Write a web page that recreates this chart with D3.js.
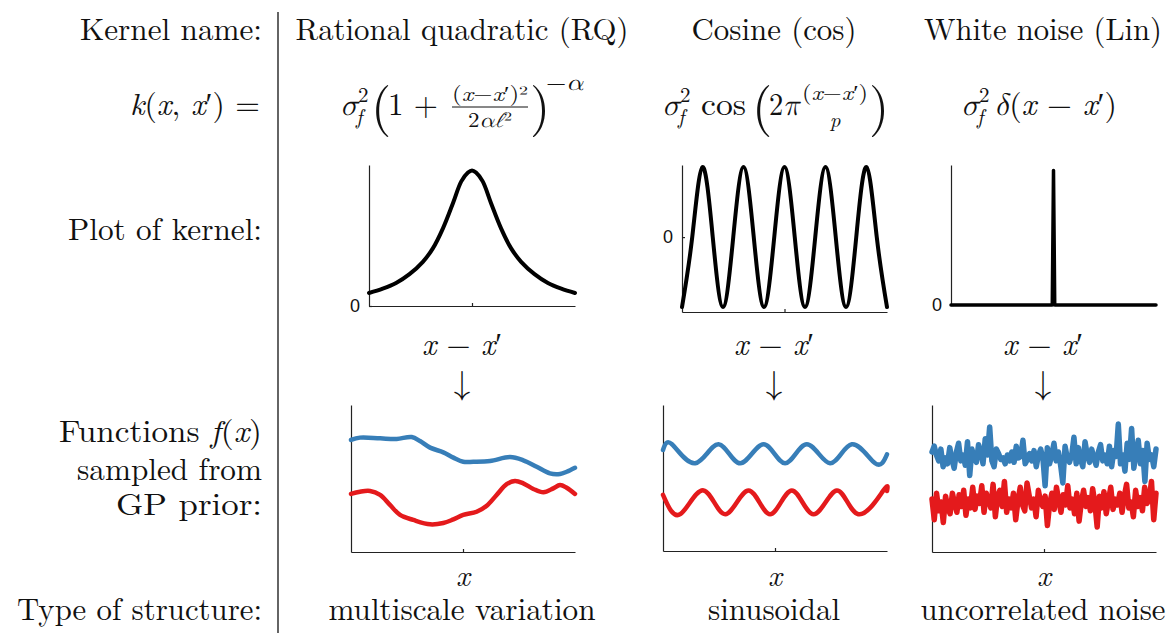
<!DOCTYPE html>
<html>
<head>
<meta charset="utf-8">
<script src="https://cdn.jsdelivr.net/npm/d3@7"></script>
<style>
  html, body { margin: 0; padding: 0; background: #fff; }
  svg { display: block; }
</style>
</head>
<body>
<script>
// ---------------- DATA ----------------
const rowLabels = ["Kernel name:", "Plot of kernel:", "sampled from", "GP prior:", "Type of structure:"];
const kernelNames = ["Rational quadratic (RQ)", "Cosine (cos)", "White noise (Lin)"];
const structureTypes = ["multiscale variation", "sinusoidal", "uncorrelated noise"];
const zeroTickLabel = ["0"];

// Kernel plots
const rqKernelX = [-1, -0.867, -0.737, -0.607, -0.477, -0.38, -0.282, -0.185, -0.104, -0.039, 0, 0.039, 0.104, 0.185, 0.282, 0.38, 0.477, 0.607, 0.737, 0.867, 1];
const rqKernelY = [0.096, 0.128, 0.170, 0.235, 0.326, 0.425, 0.573, 0.758, 0.919, 0.985, 1, 0.985, 0.919, 0.758, 0.573, 0.425, 0.326, 0.235, 0.170, 0.128, 0.096];

const cosKernelX = [-2.5, -2.25, -2, -1.75, -1.5, -1.25, -1, -0.75, -0.5, -0.25, 0, 0.25, 0.5, 0.75, 1, 1.25, 1.5, 1.75, 2, 2.25, 2.5];
const cosKernelY = [-1, 0, 1, 0, -1, 0, 1, 0, -1, 0, 1, 0, -1, 0, 1, 0, -1, 0, 1, 0, -1];

const wnKernelX = [-1, -0.012, 0, 0.012, 1];
const wnKernelY = [0, 0, 1, 0, 0];

// Samples: RQ
const rqBlueX = [0, 0.04, 0.13, 0.204, 0.271, 0.308, 0.353, 0.412, 0.457, 0.501, 0.546, 0.621, 0.710, 0.769, 0.829, 0.888, 0.933, 0.963, 1];
const rqBlueY = [76.2, 77.8, 77.3, 76.9, 78.2, 75.5, 71.0, 67.8, 64.2, 61.4, 61.4, 61.9, 64.6, 62.4, 58.0, 53.5, 53.1, 54.6, 57.3];
const rqRedX = [0, 0.04, 0.085, 0.13, 0.174, 0.219, 0.278, 0.353, 0.412, 0.457, 0.501, 0.561, 0.606, 0.650, 0.695, 0.732, 0.769, 0.814, 0.859, 0.903, 0.933, 0.963, 1];
const rqRedY = [39.5, 41.0, 41.5, 38.8, 32.0, 25.2, 21.8, 18.8, 19.7, 22.2, 25.2, 27.4, 31.5, 38.8, 46.1, 48.3, 46.7, 42.9, 40.6, 43.3, 45.6, 43.7, 39.5];

// Samples: cosine
const cosBlueX = [0, 0.04, 0.144, 0.248, 0.345, 0.449, 0.545, 0.642, 0.746, 0.843, 0.947, 1];
const cosBlueY = [69.2, 73.1, 60.1, 73.1, 60.1, 73.1, 60.1, 73.1, 60.1, 73.1, 60.1, 66.2];
const cosRedX = [0, 0.077, 0.181, 0.278, 0.382, 0.478, 0.575, 0.672, 0.776, 0.872, 0.984, 1];
const cosRedY = [38.4, 25.2, 41.5, 25.2, 41.5, 25.2, 41.5, 25.2, 41.5, 25.2, 41.5, 41.1];

// Samples: white noise
const wnBlueY = [68, 72, 66, 62, 70, 58, 64, 60, 71, 63, 57, 68, 74, 62, 66, 59, 75, 52, 70, 64,
  61, 73, 68, 60, 77, 66, 85, 62, 58, 70, 67, 63, 64, 60, 66, 62, 68, 61, 72, 64,
  65, 76, 60, 63, 67, 62, 69, 58, 66, 70, 64, 45, 71, 60, 66, 74, 62, 68, 59, 47,
  72, 64, 61, 66, 78, 60, 71, 63, 58, 75, 66, 61, 70, 64, 59, 68, 73, 62, 66, 60,
  72, 58, 69, 65, 87, 60, 66, 55, 74, 63, 84, 57, 67, 76, 60, 69, 48, 74, 63, 66, 58, 70];
const wnRedY = [36, 22, 40, 28, 34, 20, 38, 30, 26, 40, 33, 27, 39, 31, 42, 25, 36, 30, 44, 29,
  38, 33, 45, 27, 40, 35, 30, 46, 24, 38, 42, 31, 48, 27, 36, 30, 40, 22, 35, 44,
  32, 28, 47, 38, 30, 36, 24, 42, 34, 31, 38, 18, 33, 40, 29, 44, 35, 27, 39, 32,
  45, 30, 36, 26, 40, 21, 34, 42, 31, 37, 28, 43, 33, 17, 38, 30, 41, 26, 35, 44,
  29, 36, 32, 40, 27, 38, 46, 30, 34, 24, 42, 31, 37, 28, 44, 33, 36, 48, 22, 40];

const BLUE = "#377eb8", RED = "#e41a1c";
const SERIF = "'Latin Modern Roman', 'Liberation Serif', serif";
const GREEK = "'Latin Modern Math', 'Liberation Serif', serif";
const SANS = "'Liberation Sans', Arial, sans-serif";
const ARROW = "'Latin Modern Math', 'DejaVu Serif', serif";

// ---------------- DRAW ----------------
const svg = d3.select("body").append("svg").attr("width", 1174).attr("height", 633);

function txt(g, s, x, y, opt = {}) {
  const t = g.append("text").attr("x", x).attr("y", y)
    .attr("font-size", opt.size || 31)
    .attr("text-anchor", opt.anchor || "start")
    .style("font-family", opt.family || SERIF)
    .style("fill", "#111")
    .text(s);
  if (opt.italic) t.style("font-style", "italic");
  if (opt.width) t.attr("textLength", opt.width).attr("lengthAdjust", "spacingAndGlyphs");
  return t;
}
// parts: [string, italic?, greek?]
function mixed(g, parts, x, y, opt = {}) {
  const t = g.append("text").attr("x", x).attr("y", y)
    .attr("font-size", opt.size || 31)
    .attr("text-anchor", opt.anchor || "start")
    .style("font-family", SERIF)
    .style("fill", "#111");
  parts.forEach(p => {
    const s = t.append("tspan").text(p[0]);
    if (p[2]) s.style("font-family", GREEK);
    if (p[1]) s.style("font-style", "italic");
  });
  if (opt.width) t.attr("textLength", opt.width).attr("lengthAdjust", "spacingAndGlyphs");
  return t;
}

// divider
svg.append("line").attr("x1", 278).attr("x2", 278).attr("y1", 12).attr("y2", 633)
  .attr("stroke", "#111").attr("stroke-width", 1.3);

// row labels
txt(svg, rowLabels[0], 262, 40, {anchor: "end", width: 182});
mixed(svg, [["k", 1], ["("], ["x", 1], [", "], ["x", 1], ["′) ="]], 260, 115, {anchor: "end", width: 130});
txt(svg, rowLabels[1], 262, 240, {anchor: "end", width: 194});
mixed(svg, [["Functions "], ["f", 1], ["("], ["x", 1], [")"]], 262, 442, {anchor: "end", width: 203});
txt(svg, rowLabels[2], 262, 480, {anchor: "end", width: 185});
txt(svg, rowLabels[3], 262, 515, {anchor: "end", width: 146});
txt(svg, rowLabels[4], 262, 620, {anchor: "end", width: 245});

// column headers
const colCenters = [462, 774, 1043];
const headerWidths = [333, 165, 238];
kernelNames.forEach((n, i) => txt(svg, n, colCenters[i], 40, {anchor: "middle", width: headerWidths[i]}));
const structWidths = [267, 132, 245];
structureTypes.forEach((n, i) => txt(svg, n, colCenters[i], 620, {anchor: "middle", width: structWidths[i]}));

// formulas
function sigmaF(x) {
  txt(svg, "σ", x, 115, {size: 31, family: GREEK, italic: true});
  txt(svg, "2", x + 18, 102, {size: 21});
  txt(svg, "f", x + 16, 124, {italic: true, size: 21});
}
function bigParen(s, x) {
  txt(svg, s, x, 124, {size: 52});
}
// RQ
sigmaF(340);
bigParen("(", 371);
txt(svg, "1 +", 388, 115, {size: 31, width: 50});
mixed(svg, [["("], ["x", 1], ["−"], ["x", 1], ["′)²"]], 490, 101, {anchor: "middle", size: 21, width: 76});
svg.append("line").attr("x1", 452).attr("x2", 528).attr("y1", 107).attr("y2", 107).attr("stroke", "#111").attr("stroke-width", 1);
mixed(svg, [["2"], ["α", 1, 1], ["ℓ", 1, 1], ["²"]], 490, 127, {anchor: "middle", size: 21, width: 44});
bigParen(")", 530);
mixed(svg, [["−"], ["α", 1, 1]], 546, 90, {size: 23, width: 37});
// Cos
sigmaF(662);
txt(svg, "cos", 701, 115, {size: 31, width: 45});
bigParen("(", 752);
mixed(svg, [["2"], ["π", 1, 1]], 769, 115, {size: 31, width: 31});
mixed(svg, [["("], ["x", 1], ["−"], ["x", 1], ["′)"]], 835, 100, {anchor: "middle", size: 21, width: 66});
txt(svg, "p", 835, 127, {anchor: "middle", italic: true, size: 21});
bigParen(")", 869);
// White noise
sigmaF(961);
mixed(svg, [["δ", 1, 1], ["("], ["x", 1], [" − "], ["x", 1], ["′)"]], 994, 115, {size: 31, width: 123});

// kernel plots
const kPanels = [
  {x0: 369, x1: 575, y0: 165, y1: 306, xd: [-1, 1], yd: [0, 1.04], X: rqKernelX, Y: rqKernelY, curve: d3.curveCatmullRom, lbl: [355, 311]},
  {x0: 682, x1: 887, y0: 165, y1: 312, xd: [-2.5, 2.5], yd: [-1.07, 1.03], X: cosKernelX, Y: cosKernelY, curve: d3.curveNatural, lbl: [668, 245]},
  {x0: 951, x1: 1156, y0: 165, y1: 305, xd: [-1, 1], yd: [0, 1.04], X: wnKernelX, Y: wnKernelY, curve: d3.curveLinear, lbl: [937, 312]}
];
kPanels.forEach((p, i) => {
  const x = d3.scaleLinear().domain(p.xd).range([p.x0, p.x1]);
  const y = d3.scaleLinear().domain(p.yd).range([p.y1, p.y0]);
  const g = svg.append("g");
  const ax = g.append("g").attr("transform", `translate(0,${p.y1})`)
    .call(d3.axisBottom(x).tickValues([0]).tickSize(-3).tickSizeOuter(0).tickFormat(""));
  const ay = g.append("g").attr("transform", `translate(${p.x0},0)`)
    .call(d3.axisLeft(y).tickValues([0]).tickSize(-3).tickSizeOuter(0).tickFormat(""));
  [ax, ay].forEach(a => { a.selectAll("path,line").attr("stroke", "#222").attr("stroke-width", 1.2); });
  txt(g, zeroTickLabel[0], p.lbl[0], y(0) + 6, {anchor: "middle", size: 18, family: SANS});
  const line = d3.line().x((d, j) => x(p.X[j])).y(d => y(d)).curve(p.curve);
  g.append("path").attr("d", line(p.Y)).attr("fill", "none").attr("stroke", "#000")
    .attr("stroke-width", i === 2 ? 3.5 : 4).attr("stroke-linejoin", "round").attr("stroke-linecap", "round");
  // x - x' label and arrow
  mixed(svg, [["x", 1], [" − "], ["x", 1], ["′"]], colCenters[i], 355, {anchor: "middle", size: 31, width: 80});
  txt(svg, "↓", colCenters[i], 394, {anchor: "middle", size: 34, family: ARROW});
});

// sample plots
const sPanels = [
  {x0: 351, x1: 575, y0: 405, y1: 552, series: [[rqBlueX, rqBlueY, BLUE], [rqRedX, rqRedY, RED]], curve: d3.curveCatmullRom, w: 4.5},
  {x0: 663, x1: 887, y0: 405, y1: 551, series: [[cosBlueX, cosBlueY, BLUE], [cosRedX, cosRedY, RED]], curve: d3.curveNatural, w: 4.5},
  {x0: 932, x1: 1156, y0: 405, y1: 552, series: [[wnBlueY.map((d, j) => j / (wnBlueY.length - 1)), wnBlueY, BLUE], [wnRedY.map((d, j) => j / (wnRedY.length - 1)), wnRedY, RED]], curve: d3.curveLinear, w: 5.5}
];
sPanels.forEach((p, i) => {
  const x = d3.scaleLinear().domain([0, 1]).range([p.x0, p.x1]);
  const y = d3.scaleLinear().domain([0, 100]).range([p.y1, p.y0]);
  const g = svg.append("g");
  const ax = g.append("g").attr("transform", `translate(0,${p.y1})`)
    .call(d3.axisBottom(x).tickValues([0.5]).tickSize(-3).tickSizeOuter(0).tickFormat(""));
  const ay = g.append("g").attr("transform", `translate(${p.x0},0)`)
    .call(d3.axisLeft(y).tickValues([]).tickSizeOuter(0));
  [ax, ay].forEach(a => { a.selectAll("path,line").attr("stroke", "#222").attr("stroke-width", 1.2); });
  p.series.forEach(s => {
    const line = d3.line().x((d, j) => x(s[0][j])).y(d => y(d)).curve(p.curve);
    g.append("path").attr("d", line(s[1])).attr("fill", "none").attr("stroke", s[2])
      .attr("stroke-width", p.w).attr("stroke-linejoin", "round").attr("stroke-linecap", "round");
  });
  txt(svg, "x", x(0.5), 586, {anchor: "middle", italic: true, size: 30});
});
</script>
</body>
</html>
